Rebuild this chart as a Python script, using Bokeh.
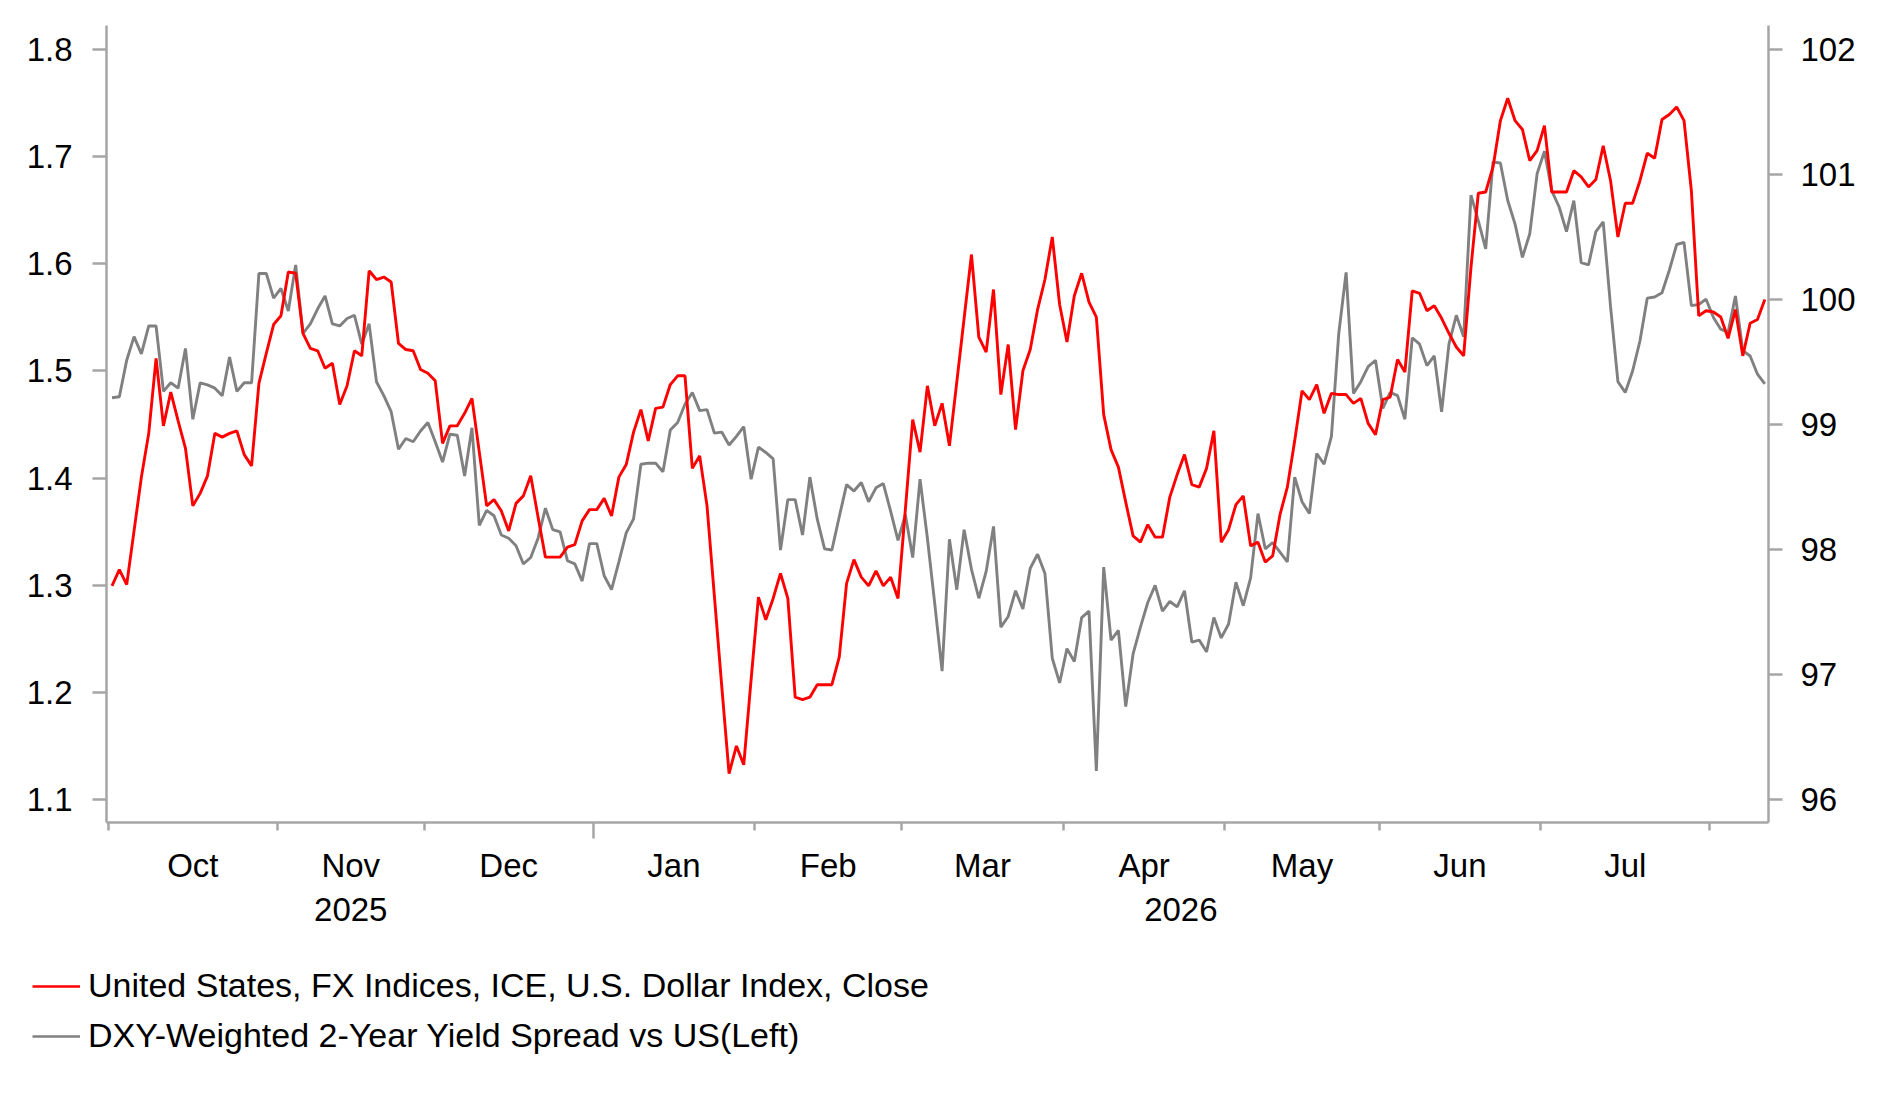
import numpy as np
import pandas as pd
from bokeh.plotting import figure
from bokeh.layouts import column
from bokeh.models import (LinearAxis, FixedTicker, Range1d, Legend, LegendItem,
                          CustomJSTickFormatter, NumeralTickFormatter)
from bokeh.embed import file_html
from bokeh.resources import INLINE

# ---------------- data ----------------
START_DATE = "2025-10-01"   # first business day shown

# United States, FX Indices, ICE, U.S. Dollar Index, Close  (right axis)
DXY = [
    97.71, 97.84, 97.72, 98.15, 98.58, 98.93, 99.53, 98.99, 99.26, 99.03,
    98.81, 98.35, 98.45, 98.59, 98.93, 98.90, 98.93, 98.95, 98.76, 98.67,
    99.33, 99.57, 99.80, 99.87, 100.22, 100.21, 99.73, 99.61, 99.59, 99.45,
    99.49, 99.16, 99.31, 99.59, 99.55, 100.23, 100.16, 100.18, 100.14, 99.65,
    99.60, 99.59, 99.44, 99.41, 99.35, 98.85, 98.99, 98.99, 99.09, 99.21,
    98.78, 98.35, 98.40, 98.31, 98.15, 98.37, 98.43, 98.59, 98.26, 97.94,
    97.94, 97.94, 98.02, 98.04, 98.23, 98.32, 98.32, 98.41, 98.27, 98.58,
    98.68, 98.94, 99.12, 98.87, 99.13, 99.14, 99.32, 99.39, 99.39, 98.65,
    98.75, 98.35, 97.63, 96.91, 96.21, 96.43, 96.28, 96.96, 97.62, 97.44,
    97.61, 97.81, 97.61, 96.82, 96.80, 96.82, 96.92, 96.92, 96.92, 97.14,
    97.73, 97.92, 97.78, 97.71, 97.83, 97.71, 97.78, 97.61, 98.32, 99.04,
    98.78, 99.31, 98.99, 99.17, 98.83, 99.34, 99.85, 100.36, 99.70, 99.58,
    100.08, 99.24, 99.64, 98.96, 99.43, 99.60, 99.92, 100.16, 100.50, 99.96,
    99.66, 100.03, 100.21, 99.98, 99.86, 99.08, 98.80, 98.66, 98.38, 98.11,
    98.06, 98.20, 98.10, 98.10, 98.42, 98.60, 98.76, 98.52, 98.50, 98.65,
    98.95, 98.06, 98.16, 98.36, 98.43, 98.03, 98.06, 97.90, 97.95, 98.28,
    98.50, 98.87, 99.27, 99.20, 99.32, 99.09, 99.25, 99.24, 99.24, 99.17,
    99.21, 99.01, 98.92, 99.20, 99.22, 99.52, 99.42, 100.07, 100.05, 99.91,
    99.95, 99.85, 99.73, 99.62, 99.55, 100.26, 100.85, 100.86, 101.06, 101.43,
    101.61, 101.43, 101.36, 101.11, 101.19, 101.39, 100.86, 100.86, 100.86, 101.03,
    100.98, 100.90, 100.96, 101.23, 100.95, 100.50, 100.77, 100.77, 100.95, 101.17,
    101.13, 101.44, 101.48, 101.54, 101.43, 100.87, 99.87, 99.91, 99.90, 99.86,
    99.69, 99.92, 99.55, 99.81, 99.84, 100.00,
]

# DXY-Weighted 2-Year Yield Spread vs US (left axis)
SPREAD = [
    1.475, 1.476, 1.510, 1.532, 1.516, 1.542, 1.542, 1.481, 1.489, 1.484,
    1.521, 1.455, 1.489, 1.487, 1.484, 1.477, 1.513, 1.481, 1.489, 1.489,
    1.591, 1.591, 1.568, 1.577, 1.556, 1.599, 1.535, 1.544, 1.558, 1.570,
    1.544, 1.542, 1.549, 1.552, 1.525, 1.544, 1.490, 1.477, 1.462, 1.427,
    1.437, 1.434, 1.444, 1.452, 1.434, 1.415, 1.441, 1.440, 1.402, 1.447,
    1.356, 1.370, 1.365, 1.347, 1.344, 1.337, 1.320, 1.326, 1.344, 1.372,
    1.352, 1.350, 1.323, 1.320, 1.304, 1.339, 1.339, 1.309, 1.296, 1.322,
    1.349, 1.362, 1.413, 1.414, 1.414, 1.406, 1.445, 1.452, 1.469, 1.480,
    1.463, 1.464, 1.442, 1.443, 1.431, 1.439, 1.448, 1.399, 1.429, 1.424,
    1.418, 1.333, 1.380, 1.380, 1.347, 1.401, 1.362, 1.334, 1.333, 1.364,
    1.394, 1.388, 1.396, 1.378, 1.391, 1.395, 1.369, 1.342, 1.366, 1.326,
    1.399, 1.344, 1.283, 1.220, 1.343, 1.296, 1.352, 1.315, 1.288, 1.313,
    1.355, 1.261, 1.271, 1.295, 1.278, 1.316, 1.329, 1.311, 1.232, 1.209,
    1.241, 1.229, 1.270, 1.276, 1.127, 1.317, 1.249, 1.258, 1.187, 1.236,
    1.261, 1.284, 1.300, 1.276, 1.285, 1.280, 1.295, 1.247, 1.249, 1.238,
    1.270, 1.251, 1.264, 1.303, 1.281, 1.307, 1.367, 1.334, 1.340, 1.331,
    1.322, 1.401, 1.378, 1.367, 1.423, 1.413, 1.439, 1.535, 1.592, 1.479,
    1.490, 1.504, 1.510, 1.465, 1.480, 1.477, 1.455, 1.531, 1.525, 1.505,
    1.514, 1.462, 1.525, 1.552, 1.532, 1.664, 1.640, 1.614, 1.695, 1.694,
    1.659, 1.637, 1.606, 1.628, 1.684, 1.705, 1.668, 1.653, 1.630, 1.659,
    1.601, 1.599, 1.630, 1.639, 1.560, 1.490, 1.480, 1.500, 1.528, 1.568,
    1.569, 1.573, 1.594, 1.618, 1.620, 1.561, 1.562, 1.567, 1.550, 1.539,
    1.536, 1.570, 1.519, 1.514, 1.497, 1.488,
]

SERIES_NAMES = ["United States, FX Indices, ICE, U.S. Dollar Index, Close",
                "DXY-Weighted 2-Year Yield Spread vs US(Left)"]
MONTH_LABELS = ["Oct", "Nov", "Dec", "Jan", "Feb", "Mar", "Apr", "May", "Jun", "Jul"]
YEAR_LABELS = ["2025", "2026"]
Y_LEFT_TICKS = [1.1, 1.2, 1.3, 1.4, 1.5, 1.6, 1.7, 1.8]
Y_RIGHT_TICKS = [96, 97, 98, 99, 100, 101, 102]

# ---------------- styling ----------------
RED = "#ff0000"
GREY = "#808080"
AXIS_GREY = "#a6a6a6"
FONT = "Liberation Sans"
FS = "33px"
FS_LEG = "34px"
LW = 2.9

dates = pd.bdate_range(START_DATE, periods=len(DXY))
x = np.arange(len(dates))

# month boundaries (between last business day of a month and first of the next)
mstart = [0] + [i for i in range(1, len(dates)) if dates[i].month != dates[i - 1].month]
bounds = [i - 0.5 for i in mstart]
year_bounds = [i - 0.5 for i in mstart if dates[i].month == 1]
X_END = 225.5
X_START = -0.75
month_mid = [(bounds[k] + bounds[k + 1]) / 2 for k in range(len(MONTH_LABELS))]
yb_all = [bounds[0]] + year_bounds + [X_END]
year_mid = [(yb_all[k] + yb_all[k + 1]) / 2 for k in range(len(YEAR_LABELS))]

L_LO, L_HI = 1.0788, 1.8223
R_LO = 96 + (L_LO - 1.1) / 0.7 * 6
R_HI = 96 + (L_HI - 1.1) / 0.7 * 6

W = 1883
H_MAIN = 950
H_LEG = 151

p = figure(width=W, height=H_MAIN, output_backend="svg", toolbar_location=None,
           x_range=Range1d(X_START, X_END), y_range=Range1d(L_LO, L_HI),
           x_axis_type=None, y_axis_type=None,
           min_border_left=106, min_border_right=115, min_border_top=25,
           min_border_bottom=H_MAIN - 822)
p.outline_line_color = None
p.xgrid.visible = False
p.ygrid.visible = False
p.background_fill_color = "white"
p.border_fill_color = "white"
p.extra_y_ranges = {"dxy": Range1d(R_LO, R_HI)}

r_grey = p.line(x, SPREAD, line_color=GREY, line_width=LW)
r_red = p.line(x, DXY, line_color=RED, line_width=LW, y_range_name="dxy")


def style_y(ax):
    ax.axis_line_color = AXIS_GREY
    ax.axis_line_width = 2.5
    ax.major_tick_line_color = AXIS_GREY
    ax.major_tick_line_width = 2.5
    ax.major_tick_out = 14
    ax.major_tick_in = 0
    ax.minor_tick_line_color = None
    ax.major_label_text_font = FONT
    ax.major_label_text_font_size = FS
    ax.major_label_text_color = "black"


yl = LinearAxis(ticker=FixedTicker(ticks=Y_LEFT_TICKS),
                formatter=NumeralTickFormatter(format="0.0"))
style_y(yl)
yl.major_label_standoff = 20
p.add_layout(yl, "left")

yr = LinearAxis(y_range_name="dxy", ticker=FixedTicker(ticks=Y_RIGHT_TICKS),
                formatter=NumeralTickFormatter(format="0"))
style_y(yr)
yr.major_label_standoff = 18
p.add_layout(yr, "right")

blank = CustomJSTickFormatter(code="return '';")

# axis with the month boundary ticks (long tick at the year change)
xa = LinearAxis(ticker=FixedTicker(ticks=year_bounds,
                                   minor_ticks=[b for b in bounds if b not in year_bounds]),
                formatter=blank)
xa.axis_line_color = AXIS_GREY
xa.axis_line_width = 2.5
xa.major_tick_line_color = AXIS_GREY
xa.major_tick_line_width = 2.5
xa.major_tick_out = 16
xa.major_tick_in = 0
xa.minor_tick_line_color = AXIS_GREY
xa.minor_tick_line_width = 2.5
xa.minor_tick_out = 8
xa.minor_tick_in = 0
xa.major_label_text_font_size = "1px"
xa.major_label_standoff = 0
p.add_layout(xa, "below")


def label_axis(pos, labels, standoff):
    fmt = CustomJSTickFormatter(args=dict(pos=pos, lab=labels), code="""
        for (let i = 0; i < pos.length; i++) {
            if (Math.abs(pos[i] - tick) < 1e-6) return lab[i];
        }
        return '';
    """)
    ax = LinearAxis(ticker=FixedTicker(ticks=pos, minor_ticks=[]), formatter=fmt)
    ax.axis_line_color = None
    ax.major_tick_line_color = None
    ax.minor_tick_line_color = None
    ax.major_tick_out = 0
    ax.major_tick_in = 0
    ax.major_label_standoff = standoff
    ax.major_label_text_font = FONT
    ax.major_label_text_font_size = FS
    ax.major_label_text_color = "black"
    return ax


p.add_layout(label_axis(month_mid, MONTH_LABELS, 8), "below")
p.add_layout(label_axis(year_mid, YEAR_LABELS, 11), "below")

# ---------------- legend (its own strip below the chart) ----------------
# The strip re-plots both series on a y range they never reach, so only the
# legend entries (whose glyphs take their colours from these renderers) show.
pl = figure(width=W, height=H_LEG, output_backend="svg", toolbar_location=None,
            x_range=Range1d(X_START, X_END), y_range=Range1d(-2, -1),
            x_axis_type=None, y_axis_type=None,
            min_border_left=0, min_border_right=0, min_border_top=0, min_border_bottom=0)
pl.frame_align = False
pl.outline_line_color = None
pl.xgrid.visible = False
pl.ygrid.visible = False
pl.border_fill_color = "white"
pl.background_fill_color = "white"
pl.extra_y_ranges = {"dxy": Range1d(-2, -1)}
l_red = pl.line(x, DXY, line_color=RED, line_width=2.6, y_range_name="dxy")
l_grey = pl.line(x, SPREAD, line_color=GREY, line_width=2.6)

legend = Legend(items=[LegendItem(label=SERIES_NAMES[0], renderers=[l_red]),
                       LegendItem(label=SERIES_NAMES[1], renderers=[l_grey])],
                location=(32, 46), orientation="vertical",
                label_text_font=FONT, label_text_font_size=FS_LEG, label_text_color="black",
                glyph_width=48, glyph_height=30, label_height=30, spacing=11,
                padding=0, margin=0, label_standoff=8,
                border_line_color=None, background_fill_alpha=0)
pl.add_layout(legend)

layout = column(p, pl, spacing=0)
open("out.html", "w").write(file_html(layout, INLINE))
